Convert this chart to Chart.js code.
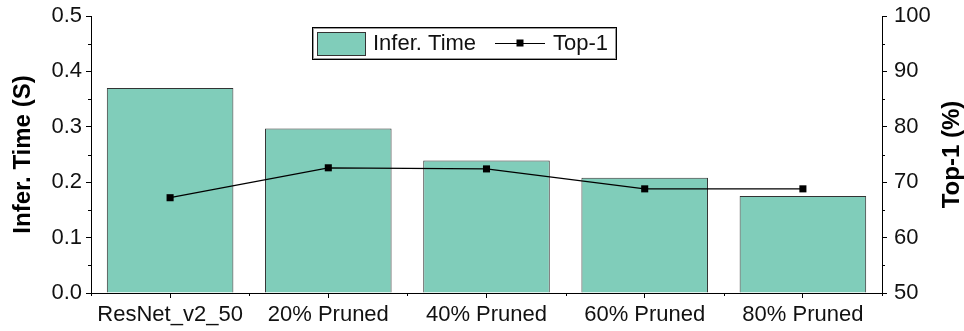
<!DOCTYPE html>
<html>
<head>
<meta charset="utf-8">
<script src="https://cdn.jsdelivr.net/npm/chart.js@4"></script>
<style>
  html, body { margin: 0; padding: 0; background: #fff; }
  #wrap { width: 964px; height: 331px; }
</style>
</head>
<body>
<div id="wrap"><canvas id="c" width="964" height="331"></canvas></div>
<script>
// Model variants on the x axis
const categories = ['ResNet_v2_50', '20% Pruned', '40% Pruned', '60% Pruned', '80% Pruned'];
// Inference time per model, seconds
const inferTime = [0.370, 0.297, 0.239, 0.208, 0.175];
// Top-1 accuracy per model, percent
const top1 = [67.2, 72.6, 72.4, 68.8, 68.8];
// Axis ranges and steps
const leftTicks = { min: 0, max: 0.5, step: 0.1 };
const rightTicks = { min: 50, max: 100, step: 10 };
// Axis titles
const leftTitle = 'Infer. Time (S)';
const rightTitle = 'Top-1 (%)';

const FONT = "'Liberation Sans', Arial, Helvetica, sans-serif";
const BAR_FILL = '#80cdba';
const BAR_EDGE = '#333333';

// Short minor ticks between the labelled ones, plus category-boundary ticks on x
const minorTicks = {
  id: 'minorTicks',
  afterDraw(chart) {
    const ctx = chart.ctx;
    const y = chart.scales.y, y1 = chart.scales.y1;
    const ca = chart.chartArea;
    ctx.save();
    ctx.strokeStyle = '#000';
    ctx.lineWidth = 1;
    ctx.beginPath();
    for (let v = leftTicks.min + leftTicks.step / 2; v < leftTicks.max; v += leftTicks.step) {
      const py = Math.round(y.getPixelForValue(v)) + 0.5;
      ctx.moveTo(ca.left - 3, py); ctx.lineTo(ca.left, py);
    }
    for (let v = rightTicks.min + rightTicks.step / 2; v < rightTicks.max; v += rightTicks.step) {
      const py = Math.round(y1.getPixelForValue(v)) + 0.5;
      ctx.moveTo(ca.right, py); ctx.lineTo(ca.right + 3, py);
    }
    const n = categories.length;
    for (let i = 0; i <= n; i++) {
      const px = Math.round(ca.left + (ca.right - ca.left) * i / n) + 0.5;
      ctx.moveTo(px, ca.bottom); ctx.lineTo(px, ca.bottom + 3);
    }
    ctx.stroke();
    ctx.restore();
  }
};

// Both axis titles read bottom-to-top
const axisTitles = {
  id: 'axisTitles',
  afterDraw(chart) {
    const ctx = chart.ctx;
    const ca = chart.chartArea;
    const cy = (ca.top + ca.bottom) / 2;
    ctx.save();
    ctx.font = 'bold 24px ' + FONT;
    ctx.fillStyle = '#000';
    ctx.textAlign = 'center';
    ctx.textBaseline = 'middle';
    [[23, leftTitle], [952, rightTitle]].forEach(([x, t]) => {
      ctx.save();
      ctx.translate(x, cy);
      ctx.rotate(-Math.PI / 2);
      ctx.fillText(t, 0, 0);
      ctx.restore();
    });
    ctx.restore();
  }
};

// Framed legend inside the plot, drawn from the datasets
const boxLegend = {
  id: 'boxLegend',
  afterDraw(chart) {
    const ctx = chart.ctx;
    const ca = chart.chartArea;
    const ds = chart.data.datasets;
    const bx = ca.left + 221, by = 27, bw = 304, bh = 32;
    ctx.save();
    ctx.fillStyle = '#fff';
    ctx.fillRect(bx, by, bw, bh);
    ctx.strokeStyle = '#000';
    ctx.lineWidth = 1;
    ctx.strokeRect(bx + 0.5, by + 0.5, bw, bh);
    ctx.strokeStyle = '#999';
    ctx.strokeRect(bx + 1.5, by + 1.5, bw - 2, bh - 2);
    ctx.font = '22px ' + FONT;
    ctx.textBaseline = 'middle';
    const cy = by + bh / 2 + 1;
    // bar sample
    const bar = ds[0];
    ctx.fillStyle = bar.backgroundColor;
    ctx.fillRect(bx + 5, by + 5, 48, 23);
    ctx.strokeStyle = BAR_EDGE;
    ctx.strokeRect(bx + 5.5, by + 5.5, 48, 23);
    ctx.fillStyle = '#111';
    ctx.fillText(bar.label, bx + 61, cy);
    // line sample
    const ln = ds[1];
    const lx = bx + 183;
    const ly = Math.round(by + bh / 2) + 0.5;
    ctx.strokeStyle = '#000';
    ctx.beginPath();
    ctx.moveTo(lx, ly); ctx.lineTo(lx + 50, ly);
    ctx.stroke();
    ctx.fillStyle = '#000';
    ctx.fillRect(lx + 25 - 3.5, ly - 4, 7, 7);
    ctx.fillStyle = '#111';
    ctx.fillText(ln.label, lx + 58, cy);
    ctx.restore();
  }
};

// Fixed axis band sizes with no extra label overflow padding
function fixBand(size, horizontal) {
  return s => {
    if (horizontal) { s.height = size; s.paddingLeft = 0; s.paddingRight = 0; }
    else { s.width = size; s.paddingTop = 0; s.paddingBottom = 0; }
  };
}

new Chart(document.getElementById('c'), {
  data: {
    labels: categories,
    datasets: [
      {
        type: 'bar',
        label: 'Infer. Time',
        data: inferTime,
        yAxisID: 'y',
        backgroundColor: BAR_FILL,
        borderColor: BAR_EDGE,
        borderWidth: 1,
        barPercentage: 0.8,
        categoryPercentage: 1.0,
        order: 2
      },
      {
        type: 'line',
        label: 'Top-1',
        data: top1,
        yAxisID: 'y1',
        borderColor: '#000',
        borderWidth: 1.2,
        pointStyle: 'rect',
        pointRadius: 5,
        pointBackgroundColor: '#000',
        pointBorderWidth: 0,
        tension: 0,
        order: 1
      }
    ]
  },
  options: {
    responsive: false,
    animation: false,
    devicePixelRatio: 1,
    layout: { padding: { top: 16, left: 0, right: 0, bottom: 0 } },
    plugins: {
      legend: { display: false },
      tooltip: { enabled: false }
    },
    scales: {
      x: {
        offset: true,
        grid: { display: true, drawOnChartArea: false, offset: false, tickLength: 5, color: '#000' },
        border: { display: true, color: '#000', width: 1 },
        ticks: { color: '#111', font: { family: FONT, size: 22 }, padding: 4, maxRotation: 0 },
        afterFit: fixBand(38, true)
      },
      y: {
        position: 'left',
        min: leftTicks.min,
        max: leftTicks.max,
        grid: { display: true, drawOnChartArea: false, tickLength: 5, color: '#000' },
        border: { display: true, color: '#000', width: 1 },
        ticks: {
          stepSize: leftTicks.step,
          color: '#111',
          font: { family: FONT, size: 22 },
          padding: 4,
          callback: v => Number(v).toFixed(1)
        },
        afterFit: fixBand(91, false)
      },
      y1: {
        position: 'right',
        min: rightTicks.min,
        max: rightTicks.max,
        grid: { display: true, drawOnChartArea: false, tickLength: 5, color: '#000' },
        border: { display: true, color: '#000', width: 1 },
        ticks: {
          stepSize: rightTicks.step,
          color: '#111',
          font: { family: FONT, size: 22 },
          padding: 7
        },
        afterFit: fixBand(82, false)
      }
    }
  },
  plugins: [minorTicks, axisTitles, boxLegend]
});
</script>
</body>
</html>
